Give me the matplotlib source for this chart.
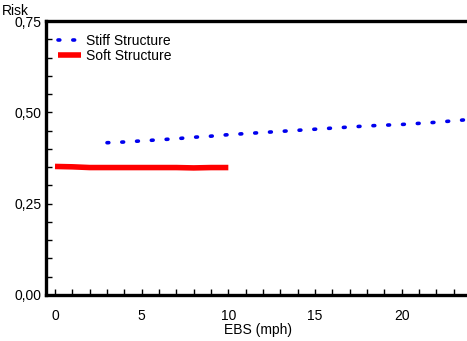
import matplotlib
matplotlib.use("Agg")
import matplotlib.pyplot as plt
from matplotlib.ticker import MultipleLocator, FuncFormatter

plt.rcParams['font.family'] = ['Liberation Sans', 'DejaVu Sans']

stiff_x = [3, 4, 5, 6, 7, 8, 9, 10, 11, 12, 13, 14, 15, 16, 17, 18, 19, 20, 21, 22, 23, 24]
stiff_y = [0.417, 0.419, 0.422, 0.425, 0.428, 0.432, 0.435, 0.439, 0.442, 0.445, 0.448,
           0.451, 0.454, 0.457, 0.460, 0.463, 0.465, 0.467, 0.470, 0.473, 0.477, 0.481]
soft_x = [0, 1, 2, 3, 4, 5, 6, 7, 8, 9, 10]
soft_y = [0.352, 0.351, 0.349, 0.349, 0.349, 0.349, 0.349, 0.349, 0.348, 0.349, 0.349]

fs = 10
fig = plt.figure(figsize=(4.67, 3.41), dpi=100)
ax = fig.add_axes([0.0985, 0.135, 0.91, 0.803])

ax.plot(stiff_x, stiff_y, color='#0000ee', linestyle=(0, (0.5, 3.6)), linewidth=2.6,
        dash_capstyle='round', label='Stiff Structure')
ax.plot(soft_x, soft_y, color='#ff0000', linewidth=4, solid_capstyle='butt',
        label='Soft Structure')

ax.set_xlim(-0.52, 24)
ax.set_ylim(0, 0.75)
ax.xaxis.set_major_locator(MultipleLocator(5))
ax.xaxis.set_minor_locator(MultipleLocator(1))
ax.yaxis.set_major_locator(MultipleLocator(0.25))
ax.yaxis.set_minor_locator(MultipleLocator(0.05))
ax.yaxis.set_major_formatter(FuncFormatter(lambda v, p: f"{v:.2f}".replace('.', ',')))
ax.tick_params(which='both', direction='in', width=1, labelsize=fs, color='black')
ax.tick_params(which='major', length=4.5)
ax.tick_params(which='minor', length=4.5)
ax.tick_params(axis='x', pad=10)
ax.tick_params(axis='y', pad=3)

for s in ['left', 'bottom', 'top']:
    ax.spines[s].set_linewidth(2.4)
ax.spines['right'].set_visible(False)

ax.set_xlabel('EBS (mph)', fontsize=fs, labelpad=0)
fig.text(0.004, 0.968, 'Risk', fontsize=fs, va='center', ha='left')

ax.legend(loc='upper left', frameon=False, fontsize=fs, handlelength=1.7,
          handletextpad=0.3, borderaxespad=0.3, labelspacing=0.1,
          bbox_to_anchor=(0.005, 0.99))

fig.savefig('out.png', dpi=100)
